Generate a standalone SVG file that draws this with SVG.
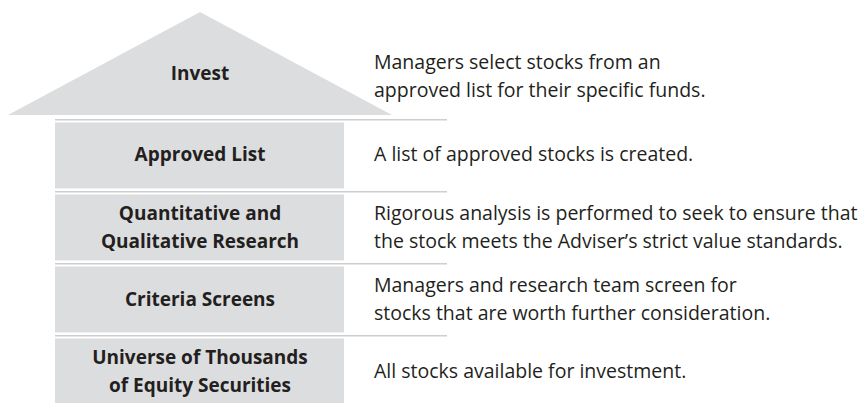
<svg xmlns="http://www.w3.org/2000/svg" width="864" height="403" viewBox="0 0 864 403">
<style>
.shape{fill:#dcdddf;stroke:none}
.sep{stroke:#cdcecf;stroke-width:1.5;fill:none}
.lbl{font-family:"Open Sans","Noto Sans","Liberation Sans",sans-serif;font-weight:700;font-size:19px;fill:#231f20;text-anchor:middle}
.desc{font-family:"Open Sans","Noto Sans","Liberation Sans",sans-serif;font-weight:400;font-size:19.5px;fill:#231f20}
</style>
<rect width="864" height="403" fill="#ffffff"/>
<g id="connectors">
<line class="sep" x1="55" y1="119.7" x2="447" y2="119.7"/>
<line class="sep" x1="55" y1="191.7" x2="447" y2="191.7"/>
<line class="sep" x1="55" y1="263.7" x2="447" y2="263.7"/>
<line class="sep" x1="55" y1="335.7" x2="447" y2="335.7"/>
</g>
<g id="invest">
<polygon class="shape" points="200,12 392,115 8,115"/>
<text class="lbl" x="200" y="80">Invest</text>
<text class="desc" x="374" y="69">Managers select stocks from an</text>
<text class="desc" x="374" y="97">approved list for their specific funds.</text>
</g>
<g id="approved">
<rect class="shape" x="55" y="122.5" width="289" height="66"/>
<text class="lbl" x="200" y="161">Approved List</text>
<text class="desc" x="374" y="161">A list of approved stocks is created.</text>
</g>
<g id="research">
<rect class="shape" x="55" y="194.5" width="289" height="66"/>
<text class="lbl" x="200" y="220">Quantitative and</text>
<text class="lbl" x="200" y="248">Qualitative Research</text>
<text class="desc" x="374" y="220">Rigorous analysis is performed to seek to ensure that</text>
<text class="desc" x="374" y="248">the stock meets the Adviser’s strict value standards.</text>
</g>
<g id="screens">
<rect class="shape" x="55" y="266.5" width="289" height="66"/>
<text class="lbl" x="200" y="306">Criteria Screens</text>
<text class="desc" x="374" y="292">Managers and research team screen for</text>
<text class="desc" x="374" y="320">stocks that are worth further consideration.</text>
</g>
<g id="universe">
<rect class="shape" x="55" y="338.5" width="289" height="65"/>
<text class="lbl" x="200" y="364">Universe of Thousands</text>
<text class="lbl" x="200" y="392">of Equity Securities</text>
<text class="desc" x="374" y="378">All stocks available for investment.</text>
</g>
</svg>
